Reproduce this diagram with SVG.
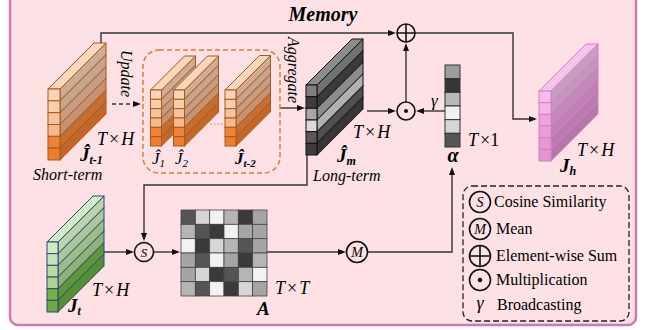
<svg xmlns="http://www.w3.org/2000/svg" width="651" height="330" viewBox="0 0 651 330" font-family="Liberation Serif">
<style>
text, tspan{font-family:"Liberation Serif", serif !important}
.it{font-style:italic}
.bi{font-style:italic;font-weight:bold}
.ln{fill:none;stroke:#333;stroke-width:1.4}
.ah{fill:#111;stroke:none}
.op{fill:none;stroke:#111;stroke-width:1.6}
.or rect,.or polygon{stroke:#a8591f;stroke-width:1}
.gr rect,.gr polygon{stroke:#111;stroke-width:1}
.pk rect,.pk polygon{stroke:#d27fc6;stroke-width:1}
.gn rect,.gn polygon{stroke:#2a4a6e;stroke-width:1}
.mx rect{stroke:#444;stroke-width:0.8}
.lg{font-size:16px}
</style>
<rect x="10" y="-10" width="626" height="335" rx="8" fill="#fde1e4" stroke="#c77cb8" stroke-width="2.5"/>
<text x="323" y="21" class="bi" font-size="20" text-anchor="middle" font-family="Liberation Serif">Memory</text>

<g id="connectors">
<path class="ln" d="M101,44 V33 H390"/><polygon class="ah" points="388,30 396,33 388,36"/>
<path class="ln" d="M415,33 H513 V119 H531"/><polygon class="ah" points="529,116 537,119 529,122"/>
<path class="ln" d="M406,102 V49"/><polygon class="ah" points="403,51 406,43 409,51"/>
<path class="ln" d="M367,111 H390"/><polygon class="ah" points="388,108 396,111 388,114"/>
<path class="ln" d="M445,111 H422"/><polygon class="ah" points="424,108 416,111 424,114"/>
<path class="ln" d="M112,104 H134" stroke-dasharray="4,3"/><polygon class="ah" points="133,101 141,104 133,107"/>
<path class="ln" d="M280,108 H299"/><polygon class="ah" points="297,105 305,108 297,111"/>
<path class="ln" d="M307,155 V185 H144 V235"/><polygon class="ah" points="141,233 144,241 147,233"/>
<path class="ln" d="M104,252 H128"/><polygon class="ah" points="126,249 134,252 126,255"/>
<path class="ln" d="M154,252 H174"/><polygon class="ah" points="172,249 180,252 172,255"/>
<path class="ln" d="M267,252 H340"/><polygon class="ah" points="338,249 346,252 338,255"/>
<path class="ln" d="M368,252 H452 V173"/><polygon class="ah" points="449,175 452,167 455,175"/>
</g>

<g id="short-term">
<g class="or" transform="translate(48,89)">
<g transform="translate(12,0) skewY(-45)">
<rect x="0" y="0" width="46" height="11.83" fill="#cdab95"/>
<rect x="0" y="11.83" width="46" height="11.83" fill="#c9a48c"/>
<rect x="0" y="23.67" width="46" height="11.83" fill="#c69d82"/>
<rect x="0" y="35.5" width="46" height="11.83" fill="#c59371"/>
<rect x="0" y="47.33" width="46" height="11.83" fill="#c66e2f"/>
<rect x="0" y="59.17" width="46" height="11.83" fill="#c36628"/>
</g>
<polygon points="0,0 12,0 58,-46 46,-46" fill="#fad6bb"/>
<rect x="0" y="0" width="12" height="11.83" fill="#fad4b8"/>
<rect x="0" y="11.83" width="12" height="11.83" fill="#f9ceae"/>
<rect x="0" y="23.67" width="12" height="11.83" fill="#f7c39f"/>
<rect x="0" y="35.5" width="12" height="11.83" fill="#f5b88f"/>
<rect x="0" y="47.33" width="12" height="11.83" fill="#ef8237"/>
<rect x="0" y="59.17" width="12" height="11.83" fill="#ed7d31"/>
</g>
<text x="97" y="145" class="it" font-size="18" font-family="Liberation Serif">T<tspan dx="2" font-style="normal">×</tspan><tspan dx="2">H</tspan></text>
<text x="80" y="161" class="bi" font-size="19" font-family="Liberation Serif">Ĵ<tspan font-size="12" dy="3">t-1</tspan></text>
<text x="33" y="180" class="it" font-size="16" font-family="Liberation Serif">Short-term</text>
</g>

<g id="update-label">
<text transform="translate(121,50) rotate(90)" class="it" font-size="16" font-family="Liberation Serif">Update</text>
</g>

<g id="history">
<rect x="143" y="50" width="137" height="123" rx="16" fill="none" stroke="#e07b39" stroke-width="1.5" stroke-dasharray="5,3"/>
<g class="or" transform="translate(150.5,90)">
<g transform="translate(11,0) skewY(-45)">
<rect x="0" y="0" width="34" height="9.33" fill="#cdab95"/>
<rect x="0" y="9.33" width="34" height="9.33" fill="#c9a48c"/>
<rect x="0" y="18.67" width="34" height="9.33" fill="#c69d82"/>
<rect x="0" y="28" width="34" height="9.33" fill="#c59371"/>
<rect x="0" y="37.33" width="34" height="9.33" fill="#c66e2f"/>
<rect x="0" y="46.67" width="34" height="9.33" fill="#c36628"/>
</g>
<polygon points="0,0 11,0 45,-34 34,-34" fill="#fad6bb"/>
<rect x="0" y="0" width="11" height="9.33" fill="#fad4b8"/>
<rect x="0" y="9.33" width="11" height="9.33" fill="#f9ceae"/>
<rect x="0" y="18.67" width="11" height="9.33" fill="#f7c39f"/>
<rect x="0" y="28" width="11" height="9.33" fill="#f5b88f"/>
<rect x="0" y="37.33" width="11" height="9.33" fill="#ef8237"/>
<rect x="0" y="46.67" width="11" height="9.33" fill="#ed7d31"/>
</g>
<g class="or" transform="translate(173.5,90)">
<g transform="translate(11,0) skewY(-45)">
<rect x="0" y="0" width="34" height="9.33" fill="#cdab95"/>
<rect x="0" y="9.33" width="34" height="9.33" fill="#c9a48c"/>
<rect x="0" y="18.67" width="34" height="9.33" fill="#c69d82"/>
<rect x="0" y="28" width="34" height="9.33" fill="#c59371"/>
<rect x="0" y="37.33" width="34" height="9.33" fill="#c66e2f"/>
<rect x="0" y="46.67" width="34" height="9.33" fill="#c36628"/>
</g>
<polygon points="0,0 11,0 45,-34 34,-34" fill="#fad6bb"/>
<rect x="0" y="0" width="11" height="9.33" fill="#fad4b8"/>
<rect x="0" y="9.33" width="11" height="9.33" fill="#f9ceae"/>
<rect x="0" y="18.67" width="11" height="9.33" fill="#f7c39f"/>
<rect x="0" y="28" width="11" height="9.33" fill="#f5b88f"/>
<rect x="0" y="37.33" width="11" height="9.33" fill="#ef8237"/>
<rect x="0" y="46.67" width="11" height="9.33" fill="#ed7d31"/>
</g>
<g class="or" transform="translate(225,90)">
<g transform="translate(11,0) skewY(-45)">
<rect x="0" y="0" width="34.5" height="9.33" fill="#cdab95"/>
<rect x="0" y="9.33" width="34.5" height="9.33" fill="#c9a48c"/>
<rect x="0" y="18.67" width="34.5" height="9.33" fill="#c69d82"/>
<rect x="0" y="28" width="34.5" height="9.33" fill="#c59371"/>
<rect x="0" y="37.33" width="34.5" height="9.33" fill="#c66e2f"/>
<rect x="0" y="46.67" width="34.5" height="9.33" fill="#c36628"/>
</g>
<polygon points="0,0 11,0 45.5,-34.5 34.5,-34.5" fill="#fad6bb"/>
<rect x="0" y="0" width="11" height="9.33" fill="#fad4b8"/>
<rect x="0" y="9.33" width="11" height="9.33" fill="#f9ceae"/>
<rect x="0" y="18.67" width="11" height="9.33" fill="#f7c39f"/>
<rect x="0" y="28" width="11" height="9.33" fill="#f5b88f"/>
<rect x="0" y="37.33" width="11" height="9.33" fill="#ef8237"/>
<rect x="0" y="46.67" width="11" height="9.33" fill="#ed7d31"/>
</g>
<path d="M210,124 H223" stroke="#f2ad88" stroke-width="2" stroke-dasharray="2,1.5" opacity="0.8"/>
<text x="152" y="164" class="it" font-size="17" font-family="Liberation Serif">Ĵ<tspan font-size="11" dy="3">1</tspan></text>
<text x="175" y="164" class="it" font-size="17" font-family="Liberation Serif">Ĵ<tspan font-size="11" dy="3">2</tspan></text>
<text x="235" y="164" class="bi" font-size="17" font-family="Liberation Serif">Ĵ<tspan font-size="11" dy="3">t-2</tspan></text>
</g>

<g id="aggregate-label">
<text transform="translate(288,37) rotate(90)" class="it" font-size="16" font-family="Liberation Serif">Aggregate</text>
</g>

<g id="long-term">
<g class="gr" transform="translate(306,85)">
<g transform="translate(11,0) skewY(-45)">
<rect x="0" y="0" width="46" height="11.67" fill="#727272"/>
<rect x="0" y="11.67" width="46" height="11.67" fill="#3a3a3a"/>
<rect x="0" y="23.33" width="46" height="11.67" fill="#8c8c8c"/>
<rect x="0" y="35" width="46" height="11.67" fill="#b2b2b2"/>
<rect x="0" y="46.67" width="46" height="11.67" fill="#4f4f4f"/>
<rect x="0" y="58.33" width="46" height="11.67" fill="#363636"/>
</g>
<polygon points="0,0 11,0 57,-46 46,-46" fill="#8c8c8c"/>
<rect x="0" y="0" width="11" height="11.67" fill="#7f7f7f"/>
<rect x="0" y="11.67" width="11" height="11.67" fill="#3d3d3d"/>
<rect x="0" y="23.33" width="11" height="11.67" fill="#a6a6a6"/>
<rect x="0" y="35" width="11" height="11.67" fill="#d9d9d9"/>
<rect x="0" y="46.67" width="11" height="11.67" fill="#595959"/>
<rect x="0" y="58.33" width="11" height="11.67" fill="#3d3d3d"/>
</g>
<text x="353" y="138" class="it" font-size="18" font-family="Liberation Serif">T<tspan dx="2" font-style="normal">×</tspan><tspan dx="2">H</tspan></text>
<text x="337" y="162" class="bi" font-size="19" font-family="Liberation Serif">Ĵ<tspan font-size="12" dy="3">m</tspan></text>
<text x="313" y="181" class="it" font-size="16" font-family="Liberation Serif">Long-term</text>
</g>

<g id="op-sum">
<circle cx="406" cy="33" r="9" class="op"/>
<path d="M397,33 H415 M406,24 V42" class="op"/>
</g>
<g id="op-mul">
<circle cx="406" cy="111" r="9" class="op"/>
<circle cx="406" cy="111" r="2" fill="#111"/>
<text x="431" y="106" class="it" font-size="17" font-family="Liberation Serif">γ</text>
</g>

<g id="alpha">
<rect x="445" y="65" width="15" height="13.67" fill="#9c9c9c" stroke="#333" stroke-width="1"/>
<rect x="445" y="78.67" width="15" height="13.67" fill="#363636" stroke="#333" stroke-width="1"/>
<rect x="445" y="92.33" width="15" height="13.67" fill="#b8b8b8" stroke="#333" stroke-width="1"/>
<rect x="445" y="106" width="15" height="13.67" fill="#f2f2f2" stroke="#333" stroke-width="1"/>
<rect x="445" y="119.67" width="15" height="13.67" fill="#d6d6d6" stroke="#333" stroke-width="1"/>
<rect x="445" y="133.33" width="15" height="13.67" fill="#555" stroke="#333" stroke-width="1"/>
<text x="468" y="145.5" class="it" font-size="18" font-family="Liberation Serif">T<tspan dx="2" font-style="normal">×1</tspan></text>
<text x="453" y="162" class="bi" font-size="20" text-anchor="middle" font-family="Liberation Serif">α</text>
</g>

<g id="output">
<g class="pk" transform="translate(539,91)">
<g transform="translate(12,0) skewY(-45)">
<rect x="0" y="0" width="47" height="11.67" fill="#c99cc2"/>
<rect x="0" y="11.67" width="47" height="11.67" fill="#c595be"/>
<rect x="0" y="23.33" width="47" height="11.67" fill="#c488bb"/>
<rect x="0" y="35" width="47" height="11.67" fill="#bf80b6"/>
<rect x="0" y="46.67" width="47" height="11.67" fill="#ba7bb1"/>
<rect x="0" y="58.33" width="47" height="11.67" fill="#b577ab"/>
</g>
<polygon points="0,0 12,0 59,-47 47,-47" fill="#f4c4ea"/>
<rect x="0" y="0" width="12" height="11.67" fill="#f5bfe9"/>
<rect x="0" y="11.67" width="12" height="11.67" fill="#f3b6e5"/>
<rect x="0" y="23.33" width="12" height="11.67" fill="#efa2dc"/>
<rect x="0" y="35" width="12" height="11.67" fill="#ed9cd8"/>
<rect x="0" y="46.67" width="12" height="11.67" fill="#e899d2"/>
<rect x="0" y="58.33" width="12" height="11.67" fill="#e396cd"/>
</g>
<text x="577" y="156" class="it" font-size="18" font-family="Liberation Serif">T<tspan dx="2" font-style="normal">×</tspan><tspan dx="2">H</tspan></text>
<text x="560" y="172" class="bi" font-size="19" font-family="Liberation Serif">J<tspan font-size="12" dy="3">h</tspan></text>
</g>

<g id="current">
<g class="gn" transform="translate(47,242)">
<g transform="translate(11,0) skewY(-45)">
<rect x="0" y="0" width="46" height="11.67" fill="#bcd4ad"/>
<rect x="0" y="11.67" width="46" height="11.67" fill="#abc79c"/>
<rect x="0" y="23.33" width="46" height="11.67" fill="#9cbd8a"/>
<rect x="0" y="35" width="46" height="11.67" fill="#8db37a"/>
<rect x="0" y="46.67" width="46" height="11.67" fill="#5e9639"/>
<rect x="0" y="58.33" width="46" height="11.67" fill="#568f33"/>
</g>
<polygon points="0,0 11,0 57,-46 46,-46" fill="#d5eccb"/>
<rect x="0" y="0" width="11" height="11.67" fill="#d3e9c4"/>
<rect x="0" y="11.67" width="11" height="11.67" fill="#c9e3b8"/>
<rect x="0" y="23.33" width="11" height="11.67" fill="#b9dba4"/>
<rect x="0" y="35" width="11" height="11.67" fill="#abd394"/>
<rect x="0" y="46.67" width="11" height="11.67" fill="#72b04a"/>
<rect x="0" y="58.33" width="11" height="11.67" fill="#6aab41"/>
</g>
<text x="92" y="296" class="it" font-size="18" font-family="Liberation Serif">T<tspan dx="2" font-style="normal">×</tspan><tspan dx="2">H</tspan></text>
<text x="68" y="312" class="bi" font-size="19" font-family="Liberation Serif">J<tspan font-size="12" dy="3">t</tspan></text>
</g>

<g id="op-cos">
<circle cx="144" cy="252" r="9.5" class="op"/>
<text x="144" y="256.5" class="it" font-size="13" text-anchor="middle" font-family="Liberation Serif">S</text>
</g>

<g id="matrix" class="mx">
<rect x="181" y="210" width="14.33" height="14.33" fill="#555"/>
<rect x="195.33" y="210" width="14.33" height="14.33" fill="#d6d6d6"/>
<rect x="209.67" y="210" width="14.33" height="14.33" fill="#f2f2f2"/>
<rect x="224" y="210" width="14.33" height="14.33" fill="#b5b5b5"/>
<rect x="238.33" y="210" width="14.33" height="14.33" fill="#3a3a3a"/>
<rect x="252.67" y="210" width="14.33" height="14.33" fill="#a5a5a5"/>
<rect x="181" y="224.33" width="14.33" height="14.33" fill="#b5b5b5"/>
<rect x="195.33" y="224.33" width="14.33" height="14.33" fill="#555"/>
<rect x="209.67" y="224.33" width="14.33" height="14.33" fill="#3a3a3a"/>
<rect x="224" y="224.33" width="14.33" height="14.33" fill="#f2f2f2"/>
<rect x="238.33" y="224.33" width="14.33" height="14.33" fill="#a5a5a5"/>
<rect x="252.67" y="224.33" width="14.33" height="14.33" fill="#a5a5a5"/>
<rect x="181" y="238.67" width="14.33" height="14.33" fill="#f2f2f2"/>
<rect x="195.33" y="238.67" width="14.33" height="14.33" fill="#3a3a3a"/>
<rect x="209.67" y="238.67" width="14.33" height="14.33" fill="#d6d6d6"/>
<rect x="224" y="238.67" width="14.33" height="14.33" fill="#b5b5b5"/>
<rect x="238.33" y="238.67" width="14.33" height="14.33" fill="#555"/>
<rect x="252.67" y="238.67" width="14.33" height="14.33" fill="#a5a5a5"/>
<rect x="181" y="253" width="14.33" height="14.33" fill="#a5a5a5"/>
<rect x="195.33" y="253" width="14.33" height="14.33" fill="#555"/>
<rect x="209.67" y="253" width="14.33" height="14.33" fill="#f2f2f2"/>
<rect x="224" y="253" width="14.33" height="14.33" fill="#a5a5a5"/>
<rect x="238.33" y="253" width="14.33" height="14.33" fill="#3a3a3a"/>
<rect x="252.67" y="253" width="14.33" height="14.33" fill="#b5b5b5"/>
<rect x="181" y="267.33" width="14.33" height="14.33" fill="#a5a5a5"/>
<rect x="195.33" y="267.33" width="14.33" height="14.33" fill="#d6d6d6"/>
<rect x="209.67" y="267.33" width="14.33" height="14.33" fill="#3a3a3a"/>
<rect x="224" y="267.33" width="14.33" height="14.33" fill="#555"/>
<rect x="238.33" y="267.33" width="14.33" height="14.33" fill="#b5b5b5"/>
<rect x="252.67" y="267.33" width="14.33" height="14.33" fill="#f2f2f2"/>
<rect x="181" y="281.67" width="14.33" height="14.33" fill="#b5b5b5"/>
<rect x="195.33" y="281.67" width="14.33" height="14.33" fill="#555"/>
<rect x="209.67" y="281.67" width="14.33" height="14.33" fill="#f2f2f2"/>
<rect x="224" y="281.67" width="14.33" height="14.33" fill="#3a3a3a"/>
<rect x="238.33" y="281.67" width="14.33" height="14.33" fill="#d6d6d6"/>
<rect x="252.67" y="281.67" width="14.33" height="14.33" fill="#a5a5a5"/>
<text x="275" y="294" class="it" font-size="18" font-family="Liberation Serif">T<tspan dx="2" font-style="normal">×</tspan><tspan dx="2">T</tspan></text>
<text x="257" y="315" class="bi" font-size="19" font-family="Liberation Serif">A</text>
</g>

<g id="op-mean">
<circle cx="357" cy="252" r="10.5" class="op"/>
<text x="357" y="256.5" class="it" font-size="14" text-anchor="middle" font-family="Liberation Serif">M</text>
</g>

<g id="legend">
<rect x="463" y="186" width="166" height="135" rx="9" fill="none" stroke="#222" stroke-width="1.3" stroke-dasharray="6,3"/>
<circle cx="480" cy="202" r="10.5" class="op"/>
<text x="480" y="207" class="it" font-size="14" text-anchor="middle" font-family="Liberation Serif">S</text>
<text x="494" y="207" class="lg" font-family="Liberation Serif">Cosine Similarity</text>
<circle cx="480" cy="229" r="10.5" class="op"/>
<text x="480" y="234" class="it" font-size="14" text-anchor="middle" font-family="Liberation Serif">M</text>
<text x="496" y="234" class="lg" font-family="Liberation Serif">Mean</text>
<circle cx="480" cy="256" r="10.5" class="op"/>
<path d="M469.5,256 H490.5 M480,245.5 V266.5" class="op"/>
<text x="496" y="261" class="lg" font-family="Liberation Serif">Element-wise Sum</text>
<circle cx="480" cy="280" r="10.5" class="op"/>
<circle cx="480" cy="280" r="2.2" fill="#111"/>
<text x="496" y="285" class="lg" font-family="Liberation Serif">Multiplication</text>
<text x="480" y="309" class="it" font-size="18" text-anchor="middle" font-family="Liberation Serif">γ</text>
<text x="497" y="310" class="lg" font-family="Liberation Serif">Broadcasting</text>
</g>
</svg>
